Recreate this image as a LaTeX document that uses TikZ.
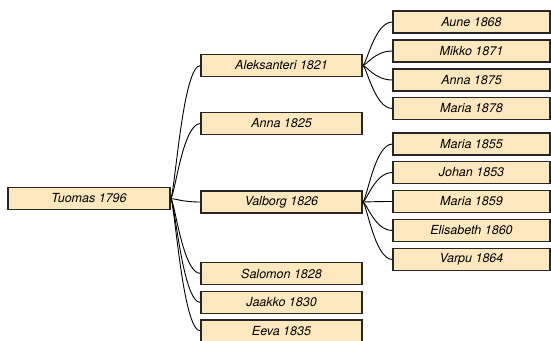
\documentclass[tikz,border=0pt]{standalone}
\usepackage{fontspec}
\setmainfont{TeX Gyre Heros}
\definecolor{boxfill}{HTML}{FDE7BE}
\begin{document}
\begin{tikzpicture}[x=1pt,y=1pt,
  person/.style={draw=black!85,line width=1.1pt,fill=boxfill,minimum height=22pt,
     inner sep=0pt,font=\fontsize{12.5}{14}\selectfont\itshape},
  lvlA/.style={person,minimum width=162pt},
  lvlB/.style={person,minimum width=161pt},
  lvlC/.style={person,minimum width=157pt},
  link/.style={line width=0.9pt,black}]
\useasboundingbox (0,0) rectangle (551,-340);
\clip (0,0) rectangle (551,-340);
\node[lvlA] (tuomas) at (89,-198.5) {Tuomas 1796};
\node[lvlB] (alek) at (281.5,-65.5) {Aleksanteri 1821};
\node[lvlB] (anna25) at (281.5,-123.5) {Anna 1825};
\node[lvlB] (valborg) at (281.5,-202) {Valborg 1826};
\node[lvlB] (salomon) at (281.5,-273.5) {Salomon 1828};
\node[lvlB] (jaakko) at (281.5,-302.5) {Jaakko 1830};
\node[lvlB] (eeva) at (281.5,-331) {Eeva 1835};
\node[lvlC] (aune) at (471.5,-22) {Aune 1868};
\node[lvlC] (mikko) at (471.5,-51) {Mikko 1871};
\node[lvlC] (anna75) at (471.5,-80) {Anna 1875};
\node[lvlC] (maria78) at (471.5,-108.5) {Maria 1878};
\node[lvlC] (maria55) at (471.5,-144) {Maria 1855};
\node[lvlC] (johan) at (471.5,-172.5) {Johan 1853};
\node[lvlC] (maria59) at (471.5,-201.5) {Maria 1859};
\node[lvlC] (elis) at (471.5,-230.5) {Elisabeth 1860};
\node[lvlC] (varpu) at (471.5,-259.5) {Varpu 1864};
\foreach \c in {alek,anna25,valborg,salomon,jaakko,eeva}
  \draw[link] (tuomas.east) .. controls +(4,0) and +(-18,0) .. (\c.west);
\foreach \c in {aune,mikko,anna75,maria78}
  \draw[link] (alek.east) .. controls +(4,0) and +(-18,0) .. (\c.west);
\foreach \c in {maria55,johan,maria59,elis,varpu}
  \draw[link] (valborg.east) .. controls +(4,0) and +(-18,0) .. (\c.west);
\end{tikzpicture}
\end{document}
